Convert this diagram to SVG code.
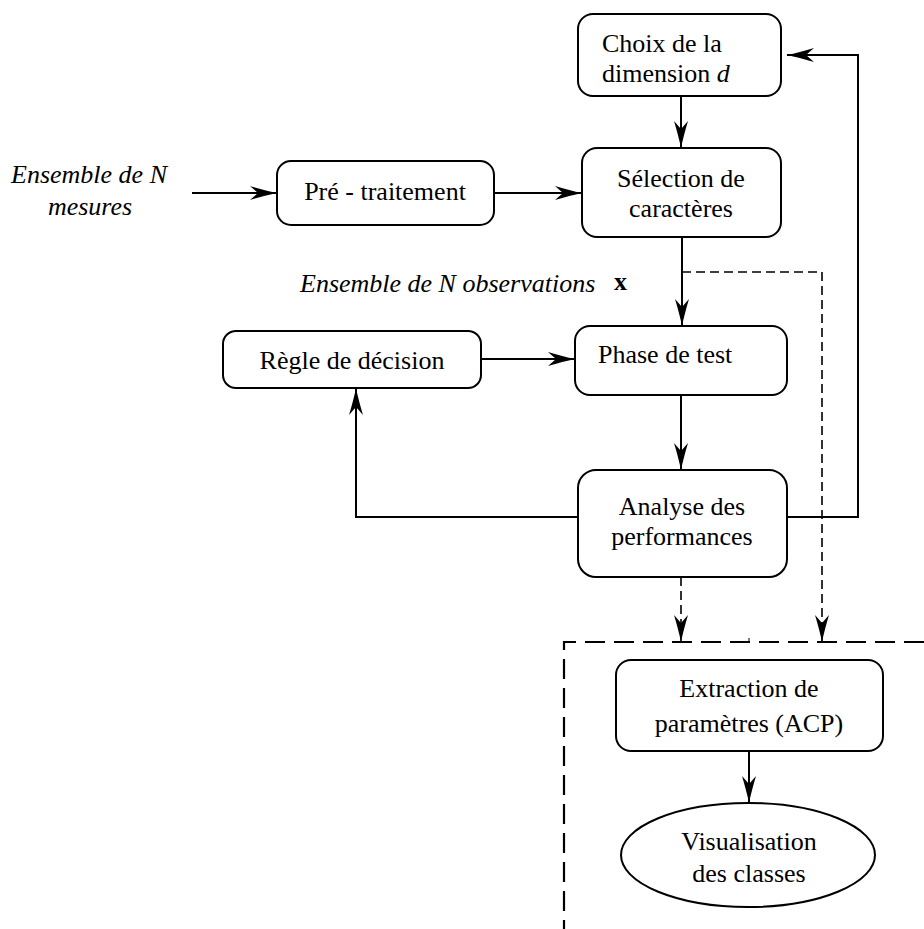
<svg xmlns="http://www.w3.org/2000/svg" width="924" height="929" viewBox="0 0 924 929">
<style>
.box{fill:#fff;stroke:#000;stroke-width:2}
.t{font-family:"Liberation Serif","Times New Roman",serif;font-size:26px;fill:#000}
.i{font-style:italic}
.c{text-anchor:middle}
.ln{fill:none;stroke:#000;stroke-width:2}
.dl{fill:none;stroke:#000;stroke-width:1.6;stroke-dasharray:9 5}
.border{fill:none;stroke:#000;stroke-width:2.2;stroke-dasharray:20 9}
</style>
<defs>
<marker id="ah" markerUnits="userSpaceOnUse" markerWidth="30" markerHeight="18" viewBox="-28 -9 30 18" refX="0" refY="0" orient="auto">
<path d="M0,0 Q-12,-2.5 -27,-7 L-19,0 L-27,7 Q-12,2.5 0,0 Z" fill="#000"/>
</marker>
</defs>
<g id="connectors">
<line class="ln" x1="192" y1="193" x2="277" y2="193" marker-end="url(#ah)"/>
<line class="ln" x1="494" y1="193" x2="582" y2="193" marker-end="url(#ah)"/>
<line class="ln" x1="681" y1="96" x2="681" y2="148" marker-end="url(#ah)"/>
<line class="ln" x1="682" y1="237" x2="682" y2="326" marker-end="url(#ah)"/>
<line class="ln" x1="481" y1="359" x2="575" y2="359" marker-end="url(#ah)"/>
<line class="ln" x1="681" y1="395" x2="681" y2="470" marker-end="url(#ah)"/>
<polyline class="ln" points="578,517 356,517 356,388" marker-end="url(#ah)"/>
<polyline class="ln" points="787,517 858,517 858,55 787,55" marker-end="url(#ah)"/>
<polyline class="dl" points="682,272 822,272 822,642" marker-end="url(#ah)"/>
<line class="dl" x1="681" y1="577" x2="681" y2="642" marker-end="url(#ah)"/>
<line class="ln" x1="749" y1="751" x2="749" y2="803" marker-end="url(#ah)"/>
</g>
<g id="group-border">
<path class="border" d="M924,642 H564 V929"/>
<line x1="749" y1="638" x2="749" y2="642" stroke="#000" stroke-width="1"/>
</g>
<g id="input-label">
<text class="t i c" x="89" y="183">Ensemble de N</text>
<text class="t i c" x="90" y="215">mesures</text>
</g>
<g id="obs-label">
<text class="t i" x="300" y="292">Ensemble de N observations</text>
<text class="t" x="614" y="290" font-weight="bold">x</text>
</g>
<g id="choix">
<rect class="box" x="578" y="14" width="203" height="82" rx="15"/>
<text class="t" x="602" y="52">Choix de la</text>
<text class="t" x="602" y="82">dimension <tspan font-style="italic">d</tspan></text>
</g>
<g id="pretraitement">
<rect class="box" x="277" y="161" width="217" height="64" rx="14"/>
<text class="t c" x="385" y="200">Pré - traitement</text>
</g>
<g id="selection">
<rect class="box" x="582" y="148" width="199" height="89" rx="15"/>
<text class="t c" x="681" y="187">Sélection de</text>
<text class="t c" x="681" y="217">caractères</text>
</g>
<g id="regle">
<rect class="box" x="223" y="331" width="258" height="57" rx="13"/>
<text class="t c" x="352" y="369">Règle de décision</text>
</g>
<g id="phase">
<rect class="box" x="575" y="326" width="212" height="69" rx="15"/>
<text class="t" x="598" y="363">Phase de test</text>
</g>
<g id="analyse">
<rect class="box" x="578" y="470" width="209" height="107" rx="18"/>
<text class="t c" x="682" y="515">Analyse des</text>
<text class="t c" x="682" y="545">performances</text>
</g>
<g id="extraction">
<rect class="box" x="616" y="660" width="267" height="91" rx="15"/>
<text class="t c" x="749" y="697">Extraction de</text>
<text class="t c" x="749" y="732">paramètres (ACP)</text>
</g>
<g id="visualisation">
<ellipse class="box" cx="748" cy="855" rx="127" ry="52"/>
<text class="t c" x="749" y="850">Visualisation</text>
<text class="t c" x="749" y="882">des classes</text>
</g>
</svg>
